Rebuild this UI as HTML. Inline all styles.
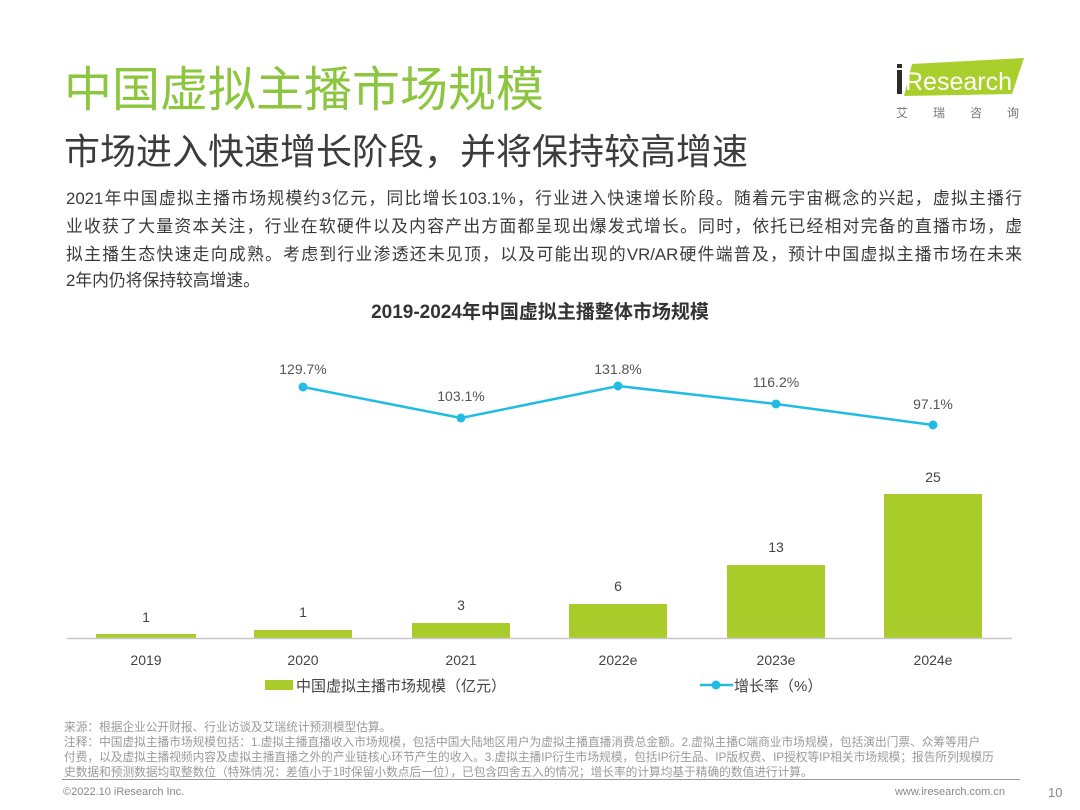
<!DOCTYPE html>
<html><head><meta charset="utf-8">
<style>
html,body{margin:0;padding:0;background:#fff;}
body{width:1080px;height:810px;position:relative;overflow:hidden;font-family:"Liberation Sans","Noto Sans CJK SC",sans-serif;}
.abs{position:absolute;white-space:nowrap;}
.title{left:64px;top:62px;font-size:48px;color:#8cc63e;line-height:58px;}
.sub{left:64px;top:130px;font-size:36px;color:#3c3c3c;line-height:44px;}
.body{left:66px;font-size:16.8px;color:#3a3a3a;line-height:27px;}
.just{width:956px;text-align:justify;text-align-last:justify;}
.foot{left:64px;font-size:11.7px;color:#9a9a9a;line-height:15px;}
</style></head><body>
<div class="abs title">中国虚拟主播市场规模</div>
<div class="abs sub">市场进入快速增长阶段，并将保持较高增速</div>
<div class="abs body just" style="top:185px">2021年中国虚拟主播市场规模约3亿元，同比增长103.1%，行业进入快速增长阶段。随着元宇宙概念的兴起，虚拟主播行</div>
<div class="abs body just" style="top:213px">业收获了大量资本关注，行业在软硬件以及内容产出方面都呈现出爆发式增长。同时，依托已经相对完备的直播市场，虚</div>
<div class="abs body just" style="top:241px">拟主播生态快速走向成熟。考虑到行业渗透还未见顶，以及可能出现的VR/AR硬件端普及，预计中国虚拟主播市场在未来</div>
<div class="abs body" style="top:267px">2年内仍将保持较高增速。</div>

<svg class="abs" style="left:892px;top:56px" width="140" height="70" viewBox="0 0 140 70">
  <polygon points="20,8 132,2 120,38 12,40" fill="#a9cf2c"/>
  <rect x="5" y="14" width="5" height="24" fill="#2c2c2c"/>
  <rect x="5" y="8" width="5" height="4" fill="#2c2c2c"/>
  <text x="13" y="34" font-family="Liberation Sans, sans-serif" font-size="25" fill="#fff">Research</text>
  <text x="4" y="61" font-family="Liberation Sans, Noto Sans CJK SC, sans-serif" font-size="12" fill="#777" letter-spacing="25">艾瑞咨询</text>
</svg>

<svg class="abs" style="left:0;top:0" width="1080" height="810" viewBox="0 0 1080 810">
  <g font-family="Liberation Sans, Noto Sans CJK SC, sans-serif">
  <text x="540" y="318" text-anchor="middle" font-size="19" font-weight="bold" fill="#333">2019-2024年中国虚拟主播整体市场规模</text>
  <g fill="#a9cc2b">
    <rect x="96" y="634" width="100" height="4"/>
    <rect x="254" y="630" width="98" height="8"/>
    <rect x="412" y="623" width="98" height="15"/>
    <rect x="569" y="604" width="98" height="34"/>
    <rect x="727" y="565" width="98" height="73"/>
    <rect x="884" y="494" width="98" height="144"/>
  </g>
  <line x1="67" y1="638.5" x2="1012" y2="638.5" stroke="#c8c8c8" stroke-width="1.5"/>
  <g font-size="14" fill="#444" text-anchor="middle">
    <text x="146" y="622">1</text>
    <text x="303" y="617">1</text>
    <text x="461" y="610">3</text>
    <text x="618" y="591">6</text>
    <text x="776" y="552">13</text>
    <text x="933" y="482">25</text>
  </g>
  <g font-size="14" fill="#444" text-anchor="middle">
    <text x="146" y="665">2019</text>
    <text x="303" y="665">2020</text>
    <text x="461" y="665">2021</text>
    <text x="618" y="665">2022e</text>
    <text x="776" y="665">2023e</text>
    <text x="933" y="665">2024e</text>
  </g>
  <polyline points="303,387 461,418 618,386 776,404 933,425" fill="none" stroke="#22bce3" stroke-width="2.5"/>
  <g fill="#22bce3">
    <circle cx="303" cy="387" r="4.5"/>
    <circle cx="461" cy="418" r="4.5"/>
    <circle cx="618" cy="386" r="4.5"/>
    <circle cx="776" cy="404" r="4.5"/>
    <circle cx="933" cy="425" r="4.5"/>
  </g>
  <g font-size="14" fill="#555" text-anchor="middle">
    <text x="303" y="374">129.7%</text>
    <text x="461" y="401">103.1%</text>
    <text x="618" y="374">131.8%</text>
    <text x="776" y="387">116.2%</text>
    <text x="933" y="409">97.1%</text>
  </g>
  <rect x="265" y="680" width="28" height="10" fill="#a9cc2b"/>
  <text x="296" y="691" font-size="15" fill="#444">中国虚拟主播市场规模（亿元）</text>
  <line x1="700" y1="685" x2="733" y2="685" stroke="#22bce3" stroke-width="2.5"/>
  <circle cx="716" cy="685" r="4.5" fill="#22bce3"/>
  <text x="734" y="691" font-size="15" fill="#444">增长率（%）</text>
  <line x1="62" y1="779.5" x2="1020" y2="779.5" stroke="#9a9a9a" stroke-width="1"/>
  <text x="63" y="795" font-size="11" fill="#888">©2022.10 iResearch Inc.</text>
  <text x="1005" y="795" font-size="11" fill="#888" text-anchor="end">www.iresearch.com.cn</text>
  <text x="1048" y="797" font-size="13" fill="#888">10</text>
  </g>
</svg>

<div class="abs foot" style="top:720px">来源：根据企业公开财报、行业访谈及艾瑞统计预测模型估算。</div>
<div class="abs foot" style="top:735px">注释：中国虚拟主播市场规模包括：1.虚拟主播直播收入市场规模，包括中国大陆地区用户为虚拟主播直播消费总金额。2.虚拟主播C端商业市场规模，包括演出门票、众筹等用户</div>
<div class="abs foot" style="top:750px">付费，以及虚拟主播视频内容及虚拟主播直播之外的产业链核心环节产生的收入。3.虚拟主播IP衍生市场规模，包括IP衍生品、IP版权费、IP授权等IP相关市场规模；报告所列规模历</div>
<div class="abs foot" style="top:765px">史数据和预测数据均取整数位（特殊情况：差值小于1时保留小数点后一位），已包含四舍五入的情况；增长率的计算均基于精确的数值进行计算。</div>
</body></html>
